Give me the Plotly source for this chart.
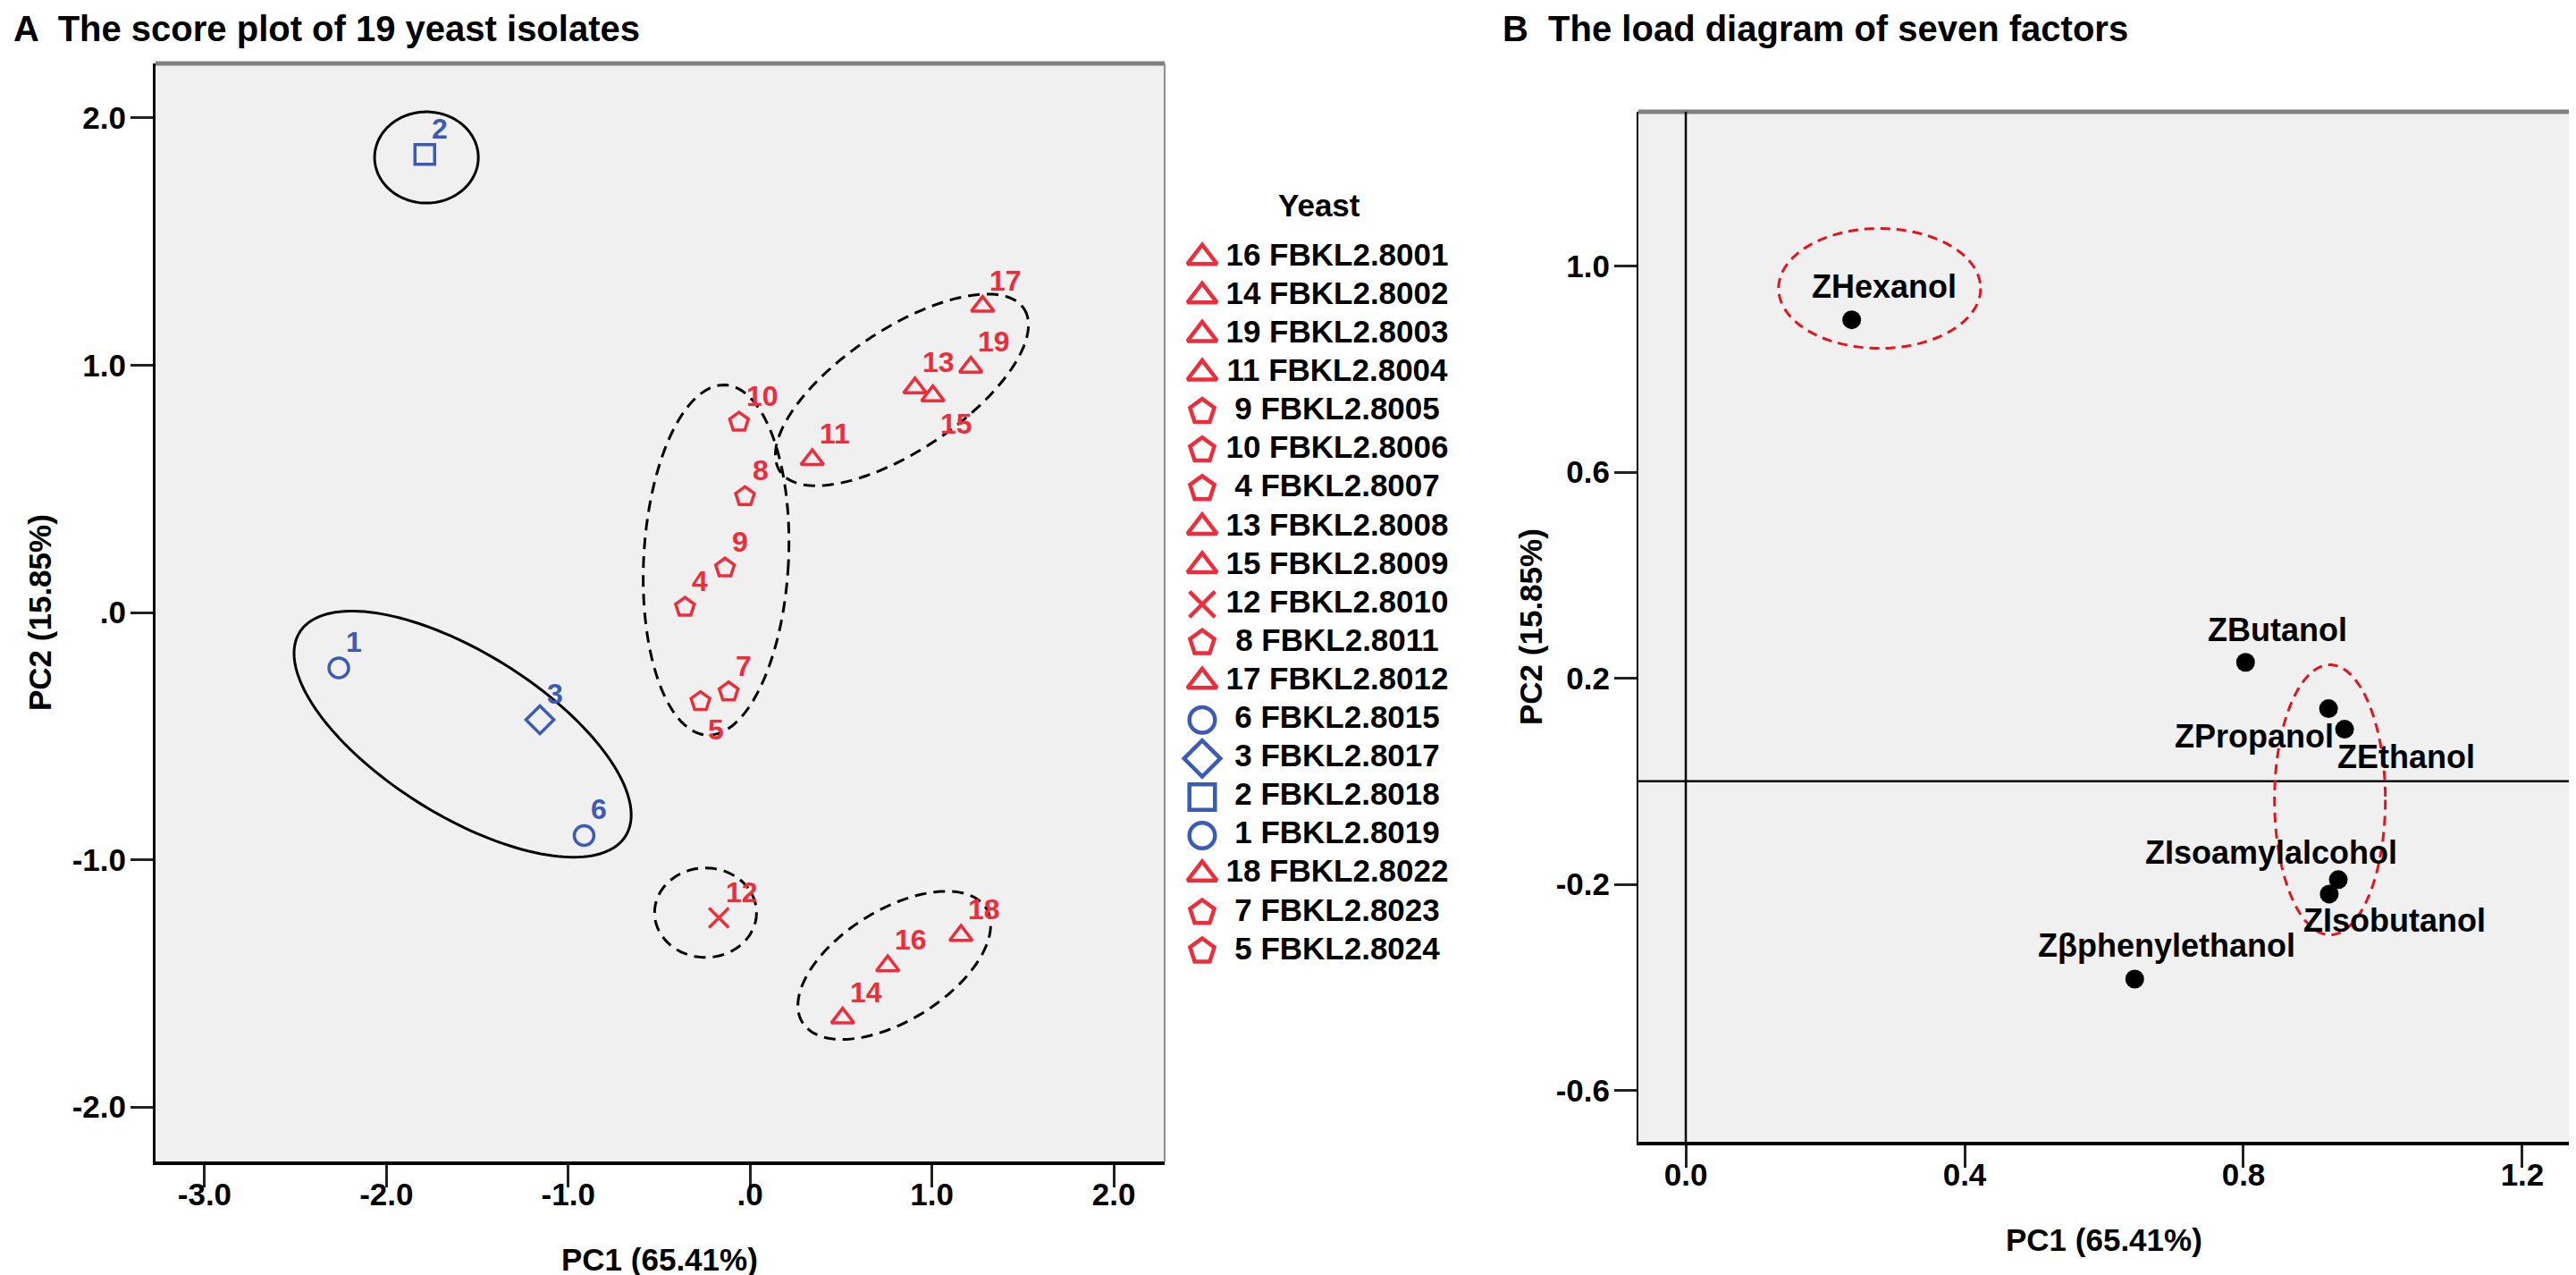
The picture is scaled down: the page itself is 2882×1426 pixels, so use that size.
import numpy as np
import plotly.graph_objects as go

# ---------------- Panel A : score plot of 19 yeast isolates ----------------
isolate_no = ["1", "2", "3", "4", "5", "6", "7", "8", "9", "10",
              "11", "12", "13", "14", "15", "16", "17", "18", "19"]
pc1_score = [-2.262, -1.789, -1.156, -0.358, -0.273, -0.913, -0.118, -0.028, -0.138, -0.061,
             0.342, -0.172, 0.907, 0.509, 1.005, 0.757, 1.279, 1.160, 1.214]
pc2_score = [-0.224, 1.852, -0.434, 0.021, -0.360, -0.902, -0.321, 0.469, 0.180, 0.770,
             0.618, -1.235, 0.908, -1.640, 0.876, -1.429, 1.238, -1.306, 0.992]
marker_class = ["circ", "sq", "diam", "pent", "pent", "circ", "pent", "pent", "pent", "pent",
                "tri", "cross", "tri", "tri", "tri", "tri", "tri", "tri", "tri"]

# legend (order as in the original key)
legend_no = ["16", "14", "19", "11", "9", "10", "4", "13", "15", "12",
             "8", "17", "6", "3", "2", "1", "18", "7", "5"]
legend_strain = ["FBKL2.8001", "FBKL2.8002", "FBKL2.8003", "FBKL2.8004", "FBKL2.8005",
                 "FBKL2.8006", "FBKL2.8007", "FBKL2.8008", "FBKL2.8009", "FBKL2.8010",
                 "FBKL2.8011", "FBKL2.8012", "FBKL2.8015", "FBKL2.8017", "FBKL2.8018",
                 "FBKL2.8019", "FBKL2.8022", "FBKL2.8023", "FBKL2.8024"]
legend_title = "Yeast"

# cluster ellipses of panel A (centres in PC units)
grpA_cx = [-1.780, -1.581, -0.187, 0.835, -0.245, 0.793]
grpA_cy = [1.840, -0.492, 0.212, 0.900, -1.214, -1.427]

a_xticks = [-3, -2, -1, 0, 1, 2]
a_xtick_text = ["-3.0", "-2.0", "-1.0", ".0", "1.0", "2.0"]
a_yticks = [2, 1, 0, -1, -2]
a_ytick_text = ["2.0", "1.0", ".0", "-1.0", "-2.0"]

# ---------------- Panel B : loading diagram of seven factors ----------------
factor_name = ["ZHexanol", "ZButanol", "ZPropanol", "ZEthanol",
               "ZIsoamylalcohol", "ZIsobutanol", "Z\u03b2phenylethanol"]
pc1_load = [0.238, 0.803, 0.922, 0.945, 0.936, 0.923, 0.644]
pc2_load = [0.896, 0.231, 0.141, 0.101, -0.191, -0.219, -0.384]

grpB_cx = [0.278, 0.924]
grpB_cy = [0.957, -0.036]

b_xticks = [0.0, 0.4, 0.8, 1.2]
b_xtick_text = ["0.0", "0.4", "0.8", "1.2"]
b_yticks = [1.0, 0.6, 0.2, -0.2, -0.6]
b_ytick_text = ["1.0", "0.6", "0.2", "-0.2", "-0.6"]

titleA = "A  The score plot of 19 yeast isolates"
titleB = "B  The load diagram of seven factors"
x_title = "PC1 (65.41%)"
y_title = "PC2 (15.85%)"

# ---------------- styling / layout (pixels of a 2882 x 1426 page) ----------------
W, H = 2882, 1426
FONT = "Liberation Sans, Arial, sans-serif"
RED, BLUE = "#EC2D3C", "#3B5BB5"
ERED = "#E3141E"

A_box = dict(x0=166, x1=1295, y0=63, y1=1291)
B_box = dict(x0=1825, x1=2867, y0=117, y1=1269)
A_xr, A_yr = [-3.27, 2.28], [-2.22, 2.22]
B_xr, B_yr = [-0.068, 1.268], [-0.70, 1.30]
LEG_box = dict(x0=1300, x1=1650, y0=258.5, y1=1077.4)


def xdom(b):
    return [b["x0"] / W, b["x1"] / W]


def ydom(b):
    return [1 - b["y1"] / H, 1 - b["y0"] / H]


sym = {
    "tri": dict(symbol="triangle-up-open", color=RED, size=22),
    "pent": dict(symbol="pentagon-open", color=RED, size=22),
    "cross": dict(symbol="x-thin-open", color=RED, size=22),
    "circ": dict(symbol="circle-open", color=BLUE, size=22),
    "diam": dict(symbol="diamond-open", color=BLUE, size=24),
    "sq": dict(symbol="square-open", color=BLUE, size=22),
}
label_below = {"15", "5"}

# ellipse shapes: (semi-axis a px, semi-axis b px, rotation deg, dash)
grpA_style = [(58, 51, 0, "solid"), (215, 91, 32, "solid"), (81, 196, 3, "dash"),
              (164, 68, -33.7, "dash"), (57, 50, 0, "dash"), (121, 62, -31.9, "dash")]
grpB_style = [(113, 67, 0), (62, 151, 0)]

fig = go.Figure()

# --- panel A points ---
for cls, st in sym.items():
    idx = [i for i, c in enumerate(marker_class) if c == cls]
    fig.add_trace(go.Scatter(
        x=[pc1_score[i] for i in idx], y=[pc2_score[i] for i in idx],
        mode="markers", xaxis="x", yaxis="y", showlegend=False, hoverinfo="skip",
        marker=dict(symbol=st["symbol"], size=st["size"], color=st["color"],
                    line=dict(color=st["color"], width=3.5))))

# --- legend drawn on its own axis ---
lookup = {n: marker_class[i] for i, n in enumerate(isolate_no)}
rows = list(range(len(legend_no)))
for cls, st in sym.items():
    r = [k for k in rows if lookup[legend_no[k]] == cls]
    fig.add_trace(go.Scatter(
        x=[0] * len(r), y=r, mode="markers", xaxis="x3", yaxis="y3",
        showlegend=False, hoverinfo="skip", cliponaxis=False,
        marker=dict(symbol=st["symbol"], size=st["size"] * 1.3, color=st["color"],
                    line=dict(color=st["color"], width=4.5))))
fig.add_trace(go.Scatter(
    x=[1] * len(rows), y=rows, mode="text", xaxis="x3", yaxis="y3",
    text=[f"{n} {s}" for n, s in zip(legend_no, legend_strain)],
    textposition="middle center", showlegend=False, hoverinfo="skip", cliponaxis=False,
    textfont=dict(family=FONT, size=35, color="black", weight="bold")))

# --- panel B points ---
fig.add_trace(go.Scatter(
    x=pc1_load, y=pc2_load, mode="markers", xaxis="x2", yaxis="y2",
    showlegend=False, hoverinfo="skip",
    marker=dict(symbol="circle", size=21, color="black")))

shapes = []
annotations = []

# backgrounds and frames
for b, xa, ya in [(A_box, "x", "y"), (B_box, "x2", "y2")]:
    shapes.append(dict(type="rect", xref=f"{xa} domain", yref=f"{ya} domain",
                       x0=0, x1=1, y0=0, y1=1, fillcolor="#F0F0F0",
                       line=dict(width=0), layer="below"))
    shapes.append(dict(type="line", xref=f"{xa} domain", yref=f"{ya} domain",
                       x0=0, x1=1, y0=1, y1=1, line=dict(color="#808080", width=5)))
    shapes.append(dict(type="line", xref=f"{xa} domain", yref=f"{ya} domain",
                       x0=1, x1=1, y0=0, y1=1, line=dict(color="#909090", width=2)))

# reference lines in panel B
shapes.append(dict(type="line", xref="x2", yref="y2 domain", x0=0, x1=0, y0=0, y1=1,
                   line=dict(color="black", width=2.5)))
shapes.append(dict(type="line", xref="x2 domain", yref="y2", x0=0, x1=1, y0=0, y1=0,
                   line=dict(color="black", width=2.5)))


def ellipse_path(cx, cy, a, b, rot, box, xr, yr):
    ppx = (box["x1"] - box["x0"]) / (xr[1] - xr[0])
    ppy = (box["y1"] - box["y0"]) / (yr[1] - yr[0])
    t = np.linspace(0, 2 * np.pi, 160)
    th = np.deg2rad(rot)
    dx = a * np.cos(t) * np.cos(th) - b * np.sin(t) * np.sin(th)
    dy = a * np.cos(t) * np.sin(th) + b * np.sin(t) * np.cos(th)
    xs = cx + dx / ppx
    ys = cy - dy / ppy
    return "M " + " L ".join(f"{x:.5f},{y:.5f}" for x, y in zip(xs, ys)) + " Z"


for cx, cy, (a, b, rot, dash) in zip(grpA_cx, grpA_cy, grpA_style):
    shapes.append(dict(type="path", xref="x", yref="y",
                       path=ellipse_path(cx, cy, a, b, rot, A_box, A_xr, A_yr),
                       line=dict(color="black", width=3,
                                 dash="solid" if dash == "solid" else "13px,8px")))
for cx, cy, (a, b, rot) in zip(grpB_cx, grpB_cy, grpB_style):
    shapes.append(dict(type="path", xref="x2", yref="y2",
                       path=ellipse_path(cx, cy, a, b, rot, B_box, B_xr, B_yr),
                       line=dict(color=ERED, width=3, dash="11px,7px")))

# point labels panel A
for n, x, y, c in zip(isolate_no, pc1_score, pc2_score, marker_class):
    below = n in label_below
    annotations.append(dict(
        x=x, y=y, xref="x", yref="y", text=n, showarrow=False,
        xanchor="left", yanchor="middle", xshift=6, yshift=-31 if below else 29,
        font=dict(family=FONT, size=32, color=sym[c]["color"], weight="bold")))

# point labels panel B (offsets in px)
b_label_shift = [(36, 37), (36, 36), (-83, -31), (69, -31), (-75, 30), (73, -30), (36, 37)]
for n, x, y, (sx, sy) in zip(factor_name, pc1_load, pc2_load, b_label_shift):
    annotations.append(dict(
        x=x, y=y, xref="x2", yref="y2", text=n, showarrow=False,
        xanchor="center", yanchor="middle", xshift=sx, yshift=sy,
        font=dict(family=FONT, size=36, color="black", weight="bold")))


def paper(px, py):
    return px / W, 1 - py / H


bold = lambda s: dict(family=FONT, size=s, color="black", weight="bold")
for txt, px in [(titleA, 5), (titleB, 1671)]:
    annotations.append(dict(x=px / W, y=1, xref="paper", yref="paper", text=txt,
                            showarrow=False, xanchor="left", yanchor="top",
                            font=bold(40)))
for px, py in [(730, 1400), (2346, 1378)]:
    x, y = paper(px, py)
    annotations.append(dict(x=x, y=y, xref="paper", yref="paper", text=x_title,
                            showarrow=False, xanchor="center", yanchor="middle",
                            font=bold(35)))
for px, py in [(37, 677), (1705, 693)]:
    x, y = paper(px, py)
    annotations.append(dict(x=x, y=y, xref="paper", yref="paper", text=y_title,
                            showarrow=False, xanchor="center", yanchor="middle",
                            textangle=-90, font=bold(35)))
x, y = paper(1468, 222)
annotations.append(dict(x=x, y=y, xref="paper", yref="paper", text=legend_title,
                        showarrow=False, xanchor="center", yanchor="middle",
                        font=bold(35)))

axis_common = dict(showgrid=False, zeroline=False, showline=True, linecolor="black",
                   ticks="outside", ticklen=25, tickwidth=3, tickcolor="#222222",
                   tickfont=bold(35), tickmode="array", fixedrange=True)

fig.update_layout(
    width=W, height=H, margin=dict(l=0, r=0, t=0, b=0),
    paper_bgcolor="white", plot_bgcolor="white", showlegend=False,
    font=dict(family=FONT),
    xaxis=dict(domain=xdom(A_box), range=A_xr, tickvals=a_xticks, ticktext=a_xtick_text,
               linewidth=4, anchor="y", ticklabelstandoff=-22, **axis_common),
    yaxis=dict(domain=ydom(A_box), range=A_yr, tickvals=a_yticks, ticktext=a_ytick_text,
               linewidth=3, anchor="x", ticklabelstandoff=-2, **axis_common),
    xaxis2=dict(domain=xdom(B_box), range=B_xr, tickvals=b_xticks, ticktext=b_xtick_text,
                linewidth=4, anchor="y2", ticklabelstandoff=-22, **axis_common),
    yaxis2=dict(domain=ydom(B_box), range=B_yr, tickvals=b_yticks, ticktext=b_ytick_text,
                linewidth=2, anchor="x2", ticklabelstandoff=-2, **axis_common),
    xaxis3=dict(domain=xdom(LEG_box), range=[-0.245, 2.073], visible=False,
                fixedrange=True, anchor="y3"),
    yaxis3=dict(domain=ydom(LEG_box), range=[len(legend_no) - 0.5, -0.5], visible=False,
                fixedrange=True, anchor="x3"),
    shapes=shapes, annotations=annotations,
)

fig.write_html("out.html", config={"displayModeBar": False})
